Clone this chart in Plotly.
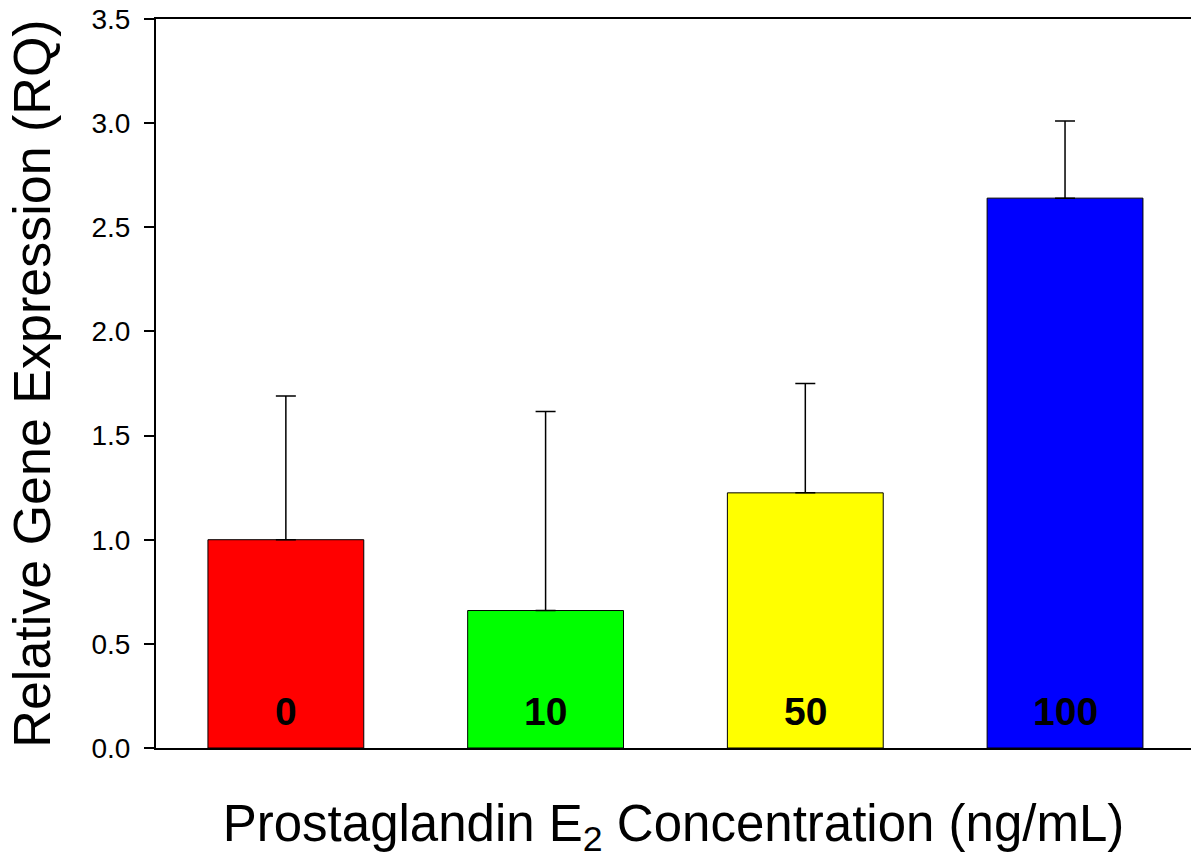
import plotly.graph_objects as go

categories = ["0", "10", "50", "100"]
means = [1.00, 0.66, 1.225, 2.64]
err_plus = [0.69, 0.955, 0.525, 0.37]
colors = ["#FF0000", "#00FF00", "#FFFF00", "#0000FF"]
y_ticks = [0.0, 0.5, 1.0, 1.5, 2.0, 2.5, 3.0, 3.5]
label_y = 0.175

FONT = "Liberation Sans, Arial, sans-serif"

fig = go.Figure()
fig.add_trace(go.Bar(
    x=categories,
    y=means,
    width=0.6,
    marker=dict(color=colors, line=dict(color="black", width=1)),
    error_y=dict(type="data", symmetric=False, array=err_plus, arrayminus=[0] * 4,
                 color="black", thickness=1.5, width=10),
    showlegend=False,
))

for i, c in enumerate(categories):
    fig.add_annotation(x=i, y=label_y, text="<b>%s</b>" % c, showarrow=False,
                       font=dict(family=FONT, size=39, color="black"),
                       xanchor="center", yanchor="middle")

fig.update_layout(
    width=1191, height=867,
    margin=dict(l=156, r=0, t=19, b=119),
    plot_bgcolor="white", paper_bgcolor="white",
    font=dict(family=FONT, color="black"),
    bargap=0.4,
)
fig.update_xaxes(
    type="category", range=[-0.5, 3.485],
    showline=True, linecolor="black", linewidth=2, mirror=True,
    showticklabels=False, ticks="", showgrid=False, zeroline=False,
    title=dict(text="Prostaglandin E<sub>2</sub> Concentration (ng/mL)",
               font=dict(family=FONT, size=51, color="black"), standoff=56),
)
fig.update_yaxes(
    range=[0, 3.5], tickvals=y_ticks, ticktext=["%.1f" % v for v in y_ticks],
    showline=True, linecolor="black", linewidth=2,
    ticks="outside", ticklen=10, tickwidth=1.5, tickcolor="black",
    tickfont=dict(family=FONT, size=28, color="black"),
    ticklabelstandoff=8,
    showgrid=False, zeroline=False,
    title=dict(text="Relative Gene Expression (RQ)",
               font=dict(family=FONT, size=52, color="black"), standoff=24),
)

fig.write_html("out.html", config={"displayModeBar": False},
               post_script="document.body.style.margin='0';document.body.style.padding='0';")
